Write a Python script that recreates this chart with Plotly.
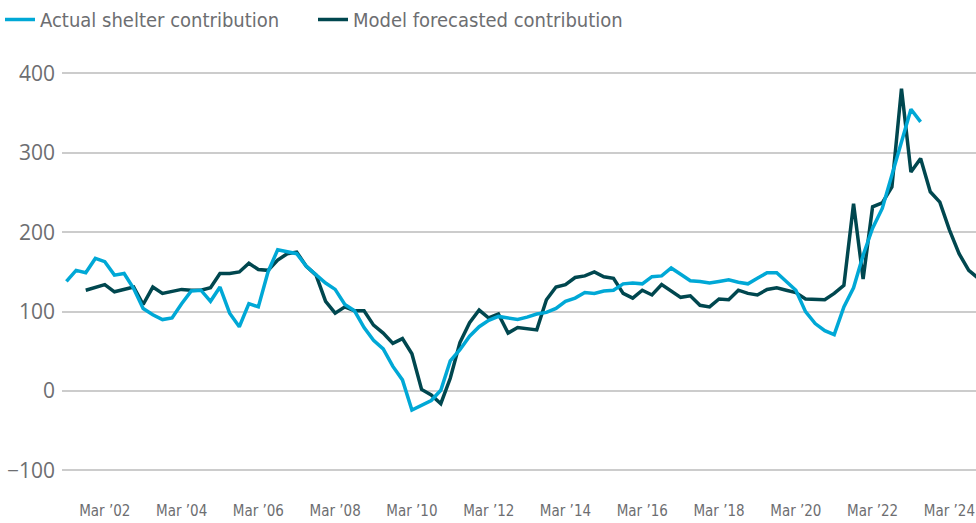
import pandas as pd
import plotly.graph_objects as go

# Quarterly data (values in basis points)
actual_start = "2001-03-01"
actual_values = [
    138, 152, 149, 167, 163, 146, 148, 129, 104, 96,
    90, 92, 110, 126, 127, 113, 131, 98, 81, 110,
    106, 150, 178, 176, 173, 157, 146, 136, 128, 109,
    101, 80, 64, 53, 31, 14, -24, -18, -12, 1,
    38, 52, 69, 81, 89, 94, 92, 90, 93, 97,
    99, 104, 113, 117, 124, 123, 126, 127, 135, 136,
    135, 144, 145, 155, 147, 139, 138, 136, 138, 140,
    137, 135, 142, 149, 149, 138, 127, 100, 85, 76,
    71, 106, 130, 171, 205, 230, 272, 314, 355, 339,
]

model_start = "2001-09-01"
model_values = [
    127, 131, 134, 125, 128, 131, 109, 131, 123, 126,
    128, 127, 127, 130, 148, 148, 150, 161, 153, 152,
    165, 173, 175, 157, 146, 113, 98, 106, 101, 101,
    83, 73, 60, 66, 47, 2, -5, -16, 16, 61,
    86, 102, 92, 97, 73, 80, 78, 77, 115, 131,
    134, 143, 145, 150, 144, 142, 123, 117, 127, 121,
    134, 126, 118, 120, 108, 106, 116, 115, 127, 123,
    121, 128, 130, 127, 124, 116, 116, 115, 123, 133,
    236, 141, 232, 237, 257, 381, 276, 293, 251, 238,
    203, 173, 152, 142,
]

tick_dates = ["2002-03-01", "2004-03-01", "2006-03-01", "2008-03-01", "2010-03-01",
              "2012-03-01", "2014-03-01", "2016-03-01", "2018-03-01", "2020-03-01",
              "2022-03-01", "2024-03-01"]
tick_labels = ["Mar \u201902", "Mar \u201904", "Mar \u201906", "Mar \u201908", "Mar \u201910",
               "Mar \u201912", "Mar \u201914", "Mar \u201916", "Mar \u201918", "Mar \u201920",
               "Mar \u201922", "Mar \u201924"]
y_ticks = [-100, 0, 100, 200, 300, 400]

actual_dates = pd.date_range(actual_start, periods=len(actual_values), freq="3MS")
model_dates = pd.date_range(model_start, periods=len(model_values), freq="3MS")

LIGHT = "#00a8d6"
DARK = "#00474f"
GRAY = "#6d6e71"
NARROW = "Liberation Sans Narrow, DejaVu Sans Condensed, Liberation Sans, Arial, sans-serif"

fig = go.Figure()
fig.add_trace(go.Scatter(
    x=model_dates, y=model_values, mode="lines",
    name="Model forecasted contribution",
    line=dict(color=DARK, width=3.5), legendrank=2,
))
fig.add_trace(go.Scatter(
    x=actual_dates, y=actual_values, mode="lines",
    name="Actual shelter contribution",
    line=dict(color=LIGHT, width=3.5), legendrank=1,
))

fig.update_layout(
    width=976, height=523,
    margin=dict(l=62, r=0, t=60, b=28, autoexpand=False),
    paper_bgcolor="white", plot_bgcolor="white",
    showlegend=True,
    legend=dict(
        orientation="h", xref="container", yref="container",
        x=0.0, y=1.0, xanchor="left", yanchor="top",
        font=dict(family=NARROW, size=20, color=GRAY),
        entrywidthmode="pixels", entrywidth=268,
        bgcolor="rgba(0,0,0,0)", borderwidth=0,
    ),
    xaxis=dict(
        type="date",
        range=["2001-01-18", "2024-11-09"],
        tickvals=tick_dates, ticktext=tick_labels,
        tickfont=dict(family=NARROW, size=15, color=GRAY),
        showgrid=False, showline=False, zeroline=False, ticks="",
        ticklabeloverflow="allow", automargin=False,
        ticklabelstandoff=5,
    ),
    yaxis=dict(
        range=[-131, 417],
        tickvals=y_ticks,
        tickfont=dict(family="Open Sans", size=21, color=GRAY),
        showgrid=True, gridcolor="#cccccc", gridwidth=1.5,
        zeroline=False, showline=False, ticks="",
        ticklabelstandoff=6, automargin=False,
    ),
)

fig.write_html(
    "out.html",
    config={"displayModeBar": False},
    post_script="document.body.style.margin='0';document.body.style.overflow='hidden';",
)
